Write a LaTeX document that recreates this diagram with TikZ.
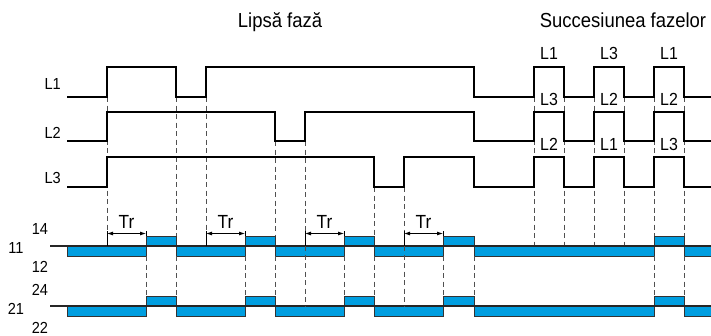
\documentclass[tikz,border=0pt]{standalone}
\usepackage{fontspec}
\setmainfont[FakeStretch=0.91]{Liberation Sans}
\usepackage{xcolor}
\usetikzlibrary{arrows.meta}
\definecolor{relayblue}{RGB}{0,158,224}
\definecolor{guidegray}{RGB}{80,80,80}

\begin{document}
\begin{tikzpicture}[
    x=1pt, y=-1pt,
    wave/.style={line width=1.4pt, black, line join=miter},
    guide/.style={dash pattern=on 5pt off 3.5pt, line width=0.8pt, guidegray},
    bar/.style={line width=0.9pt, black},
    contact/.style={draw=black!80, line width=0.6pt, fill=relayblue},
    rail/.style={line width=1.5pt, black!85},
    tr/.style={{Latex[length=6pt,width=4pt]}-{Latex[length=6pt,width=4pt]}, line width=0.8pt},
    lbl/.style={font=\fontsize{16}{16}\selectfont, inner sep=0pt, anchor=base},
    plbl/.style={font=\fontsize{17.5}{18}\selectfont, inner sep=0pt, anchor=base},
    ttl/.style={font=\fontsize{20.3}{21}\selectfont, inner sep=0pt, anchor=base}
]
\useasboundingbox (0,0) rectangle (711,335);

% titles
\node[ttl] (lipsa) at (280,27) {Lipsă fază};
\node[ttl] (succ) at (623,27) {Succesiunea fazelor};

% phase labels
\node[lbl, anchor=base east] (l1) at (61,89) {L1};
\node[lbl, anchor=base east] (l2) at (61,138) {L2};
\node[lbl, anchor=base east] (l3) at (61,183) {L3};

% guide lines (upper part)
\foreach \x/\ya/\yb in {107/97/231, 176/97/236, 206/97/231, 275/141/236, 305/141/231,
    374/187/236, 404/187/231, 534/97/246, 564/97/246, 594/97/246, 624/97/246,
    654/97/236, 684/97/236}
  \draw[guide] (\x,\ya) -- (\x,\yb);

% waveforms
\draw[wave] (67,97) -| (107,67) -| (176,97) -| (206,67) -| (474,97) -| (534,67) -| (564,97)
    -| (594,67) -| (624,97) -| (654,67) -| (684,97) -- (711,97);
\draw[wave] (67,141) -| (107,112) -| (275,141) -| (305,112) -| (474,141) -| (534,112) -| (564,141)
    -| (594,112) -| (624,141) -| (654,112) -| (684,141) -- (711,141);
\draw[wave] (67,187) -| (107,157) -| (374,187) -| (404,157) -| (474,187) -| (534,157) -| (564,187)
    -| (594,157) -| (624,187) -| (654,157) -| (684,187) -- (711,187);

% phase sequence labels
\foreach \x/\ta/\tb/\tc [count=\i] in {549/L1/L3/L2, 609/L3/L2/L1, 669/L1/L2/L3} {
  \node[plbl] (sa\i) at (\x,59) {\ta};
  \node[plbl] (sb\i) at (\x,105) {\tb};
  \node[plbl] (sc\i) at (\x,150) {\tc};
}

% relay contacts
\foreach \r in {246,306} {
  \foreach \a/\b in {67/146, 176/245, 275/344, 374/443, 474/654, 684/711}
    \draw[contact] (\a,\r) rectangle (\b,\r+10);
  \foreach \a/\b in {146/176, 245/275, 344/374, 443/474, 654/684}
    \draw[contact] (\a,\r-10) rectangle (\b,\r);
  \draw[rail] (50,\r) -- (711,\r);
}

% guide lines (between contacts)
\foreach \x/\yb in {146/296, 176/296, 245/296, 275/296, 344/296, 374/296,
    443/296, 474/296, 654/296, 684/296}
  \draw[guide] (\x,256) -- (\x,\yb);
\foreach \x in {305,404}
  \draw[guide] (\x,246) -- (\x,306);

% release time Tr
\foreach \a/\b [count=\i] in {107/146, 206/245, 305/344, 404/443} {
  \draw[bar] (\a,231) -- (\a,246);
  \draw[bar] (\b,231) -- (\b,236);
  \coordinate (tra\i) at (\a,233.5);
  \coordinate (trb\i) at (\b,233.5);
  \draw[tr] (tra\i) -- (trb\i);
  \node[plbl, font=\fontsize{19}{19}\selectfont] (tr\i) at ({(\a+\b)/2},228) {Tr};
}

% contact numbers
\node[lbl] (n14) at (40,234) {14};
\node[lbl] (n11) at (16,253) {11};
\node[lbl] (n12) at (40,272) {12};
\node[lbl] (n24) at (40,295) {24};
\node[lbl] (n21) at (16,314) {21};
\node[lbl] (n22) at (40,333) {22};
\end{tikzpicture}
\end{document}
